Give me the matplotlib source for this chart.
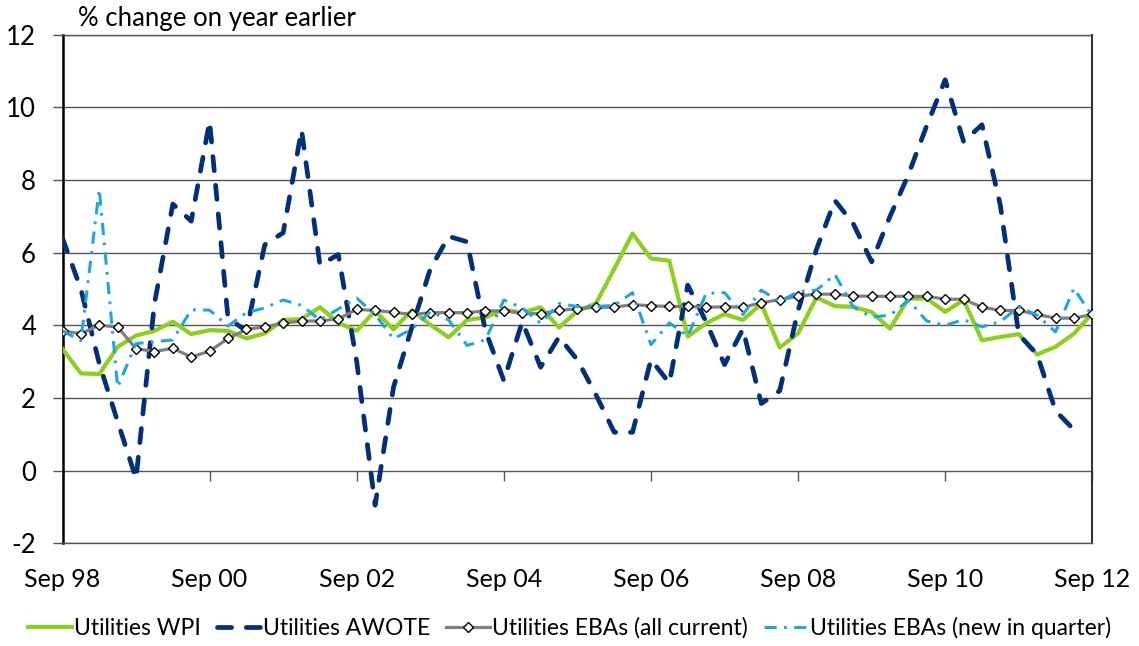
import numpy as np
import matplotlib.pyplot as plt
from matplotlib.lines import Line2D

plt.rcParams['font.family'] = ['Lato', 'DejaVu Sans']
plt.rcParams['axes.unicode_minus'] = False

# quarterly, Sep 98 .. Sep 12 (57 quarters)
tick_labels = ['Sep 98', 'Sep 00', 'Sep 02', 'Sep 04', 'Sep 06', 'Sep 08', 'Sep 10', 'Sep 12']

wpi = [3.35, 2.68, 2.66, 3.41, 3.72, 3.85, 4.10, 3.76, 3.87, 3.85,
       3.64, 3.78, 4.15, 4.17, 4.50, 4.07, 3.85, 4.40, 3.89, 4.42,
       4.02, 3.67, 4.15, 4.22, 4.44, 4.35, 4.50, 3.94, 4.40, 4.60,
       5.55, 6.53, 5.84, 5.78, 3.69, 4.06, 4.31, 4.15, 4.59, 3.39,
       3.78, 4.77, 4.53, 4.51, 4.37, 3.91, 4.74, 4.74, 4.37, 4.70,
       3.59, 3.68, 3.76, 3.20, 3.41, 3.77, 4.34]

awote = [6.40, 5.00, 2.95, 1.35, -0.22, 4.60, 7.34, 6.87, 9.62, 4.20,
         3.85, 6.22, 6.55, 9.38, 5.66, 5.95, 3.00, -0.95, 2.30, 3.95,
         5.55, 6.45, 6.30, 3.85, 2.48, 4.10, 2.85, 3.68, 3.05, 2.10,
         1.06, 1.06, 3.06, 2.41, 5.11, 4.10, 2.92, 3.90, 1.85, 2.20,
         4.41, 6.09, 7.44, 6.80, 5.75, 7.00, 8.15, 9.50, 10.76, 9.06,
         9.52, 7.30, 3.75, 3.20, 1.65, 1.13, np.nan]

eba_all = [3.85, 3.77, 4.01, 3.95, 3.36, 3.28, 3.37, 3.13, 3.29, 3.64,
           3.89, 3.96, 4.06, 4.12, 4.12, 4.18, 4.44, 4.41, 4.36, 4.30,
           4.35, 4.35, 4.35, 4.40, 4.40, 4.33, 4.32, 4.41, 4.46, 4.50,
           4.50, 4.57, 4.54, 4.52, 4.52, 4.50, 4.51, 4.50, 4.62, 4.71,
           4.80, 4.86, 4.86, 4.81, 4.80, 4.80, 4.80, 4.80, 4.72, 4.72,
           4.50, 4.41, 4.41, 4.30, 4.20, 4.20, 4.30]

eba_new = [3.85, 3.58, 7.75, 2.30, 3.50, 3.55, 3.60, 4.43, 4.42, 3.98,
           4.35, 4.48, 4.70, 4.55, 4.15, 4.45, 4.75, 4.30, 3.63, 3.90,
           4.38, 4.15, 3.45, 3.60, 4.70, 4.48, 4.06, 4.60, 4.52, 4.52,
           4.55, 4.90, 3.47, 4.07, 3.70, 4.88, 4.90, 4.30, 4.97, 4.65,
           4.93, 4.97, 5.40, 4.51, 4.23, 4.28, 4.69, 4.12, 4.00, 4.16,
           3.96, 4.10, 4.51, 4.28, 3.82, 5.02, 4.25]

labels = ['Utilities WPI', 'Utilities AWOTE', 'Utilities EBAs (all current)',
          'Utilities EBAs (new in quarter)']

green = '#8CCF1E'
navy = '#00307A'
grey = '#808080'
cyan = '#21A5DF'
gridc = '#555555'

x = np.arange(len(wpi))

fig = plt.figure(figsize=(11.39, 6.46), dpi=100)
ax = fig.add_axes([62.5 / 1139, 1 - 543.4 / 646, (1092.3 - 62.5) / 1139, (543.4 - 34.7) / 646])

navy_dash = (3.0, 3.1)
cyan_dash = (4, 2.4, 0.9, 2.4)

ax.plot(x, wpi, color=green, lw=3.0, zorder=3)
ax.plot(x, awote, color=navy, lw=3.4, dashes=navy_dash,
        dash_capstyle='round', zorder=4)
ax.plot(x, eba_all, color=grey, lw=2.3, marker='D', markersize=5.5,
        markerfacecolor='white', markeredgecolor='black', markeredgewidth=1.0, zorder=5)
ax.plot(x, eba_new, color=cyan, lw=2.2, dashes=cyan_dash, zorder=6)

ax.set_xlim(0, len(x) - 1)
ax.set_ylim(-2, 12)
ax.set_yticks(range(-2, 13, 2))
ax.set_xticks(x[::8], tick_labels)
ax.yaxis.grid(True, color=gridc, lw=1.0)
ax.set_axisbelow(True)

ax.tick_params(axis='x', length=0, pad=18, labelsize=18)
ax.tick_params(axis='y', length=7, width=1, color=gridc, pad=12, labelsize=18.5)

ax.spines['left'].set_color('black')
ax.spines['left'].set_linewidth(1.8)
for s in ['top', 'bottom']:
    ax.spines[s].set_color(gridc)
    ax.spines[s].set_linewidth(1.0)
ax.spines['right'].set_color('#333333')
ax.spines['right'].set_linewidth(1.5)

# small tick marks sitting on the zero line
sec = ax.secondary_xaxis(2 / 14)
sec.set_xticks(x[::8])
sec.tick_params(axis='x', length=7, width=1, color=gridc, labelbottom=False)
sec.spines['bottom'].set_visible(False)

fig.text(78 / 1139, 1 - 26 / 646, '% change on year earlier', fontsize=18.5,
         ha='left', va='baseline')

handles = [
    Line2D([], [], color=green, lw=3.0),
    Line2D([], [], color=navy, lw=3.4, dashes=navy_dash, dash_capstyle='round'),
    Line2D([], [], color=grey, lw=2.3, marker='D', markersize=5.5,
           markerfacecolor='white', markeredgecolor='black', markeredgewidth=1.0),
    Line2D([], [], color=cyan, lw=2.2, dashes=cyan_dash),
]
fig.legend(handles, labels, loc='center', bbox_to_anchor=(0.5, 1 - 628 / 646),
           ncol=4, frameon=False, fontsize=16.5, handlelength=1.9,
           handletextpad=0.1, columnspacing=0.7, borderpad=0)

fig.savefig('out.png', dpi=100)
